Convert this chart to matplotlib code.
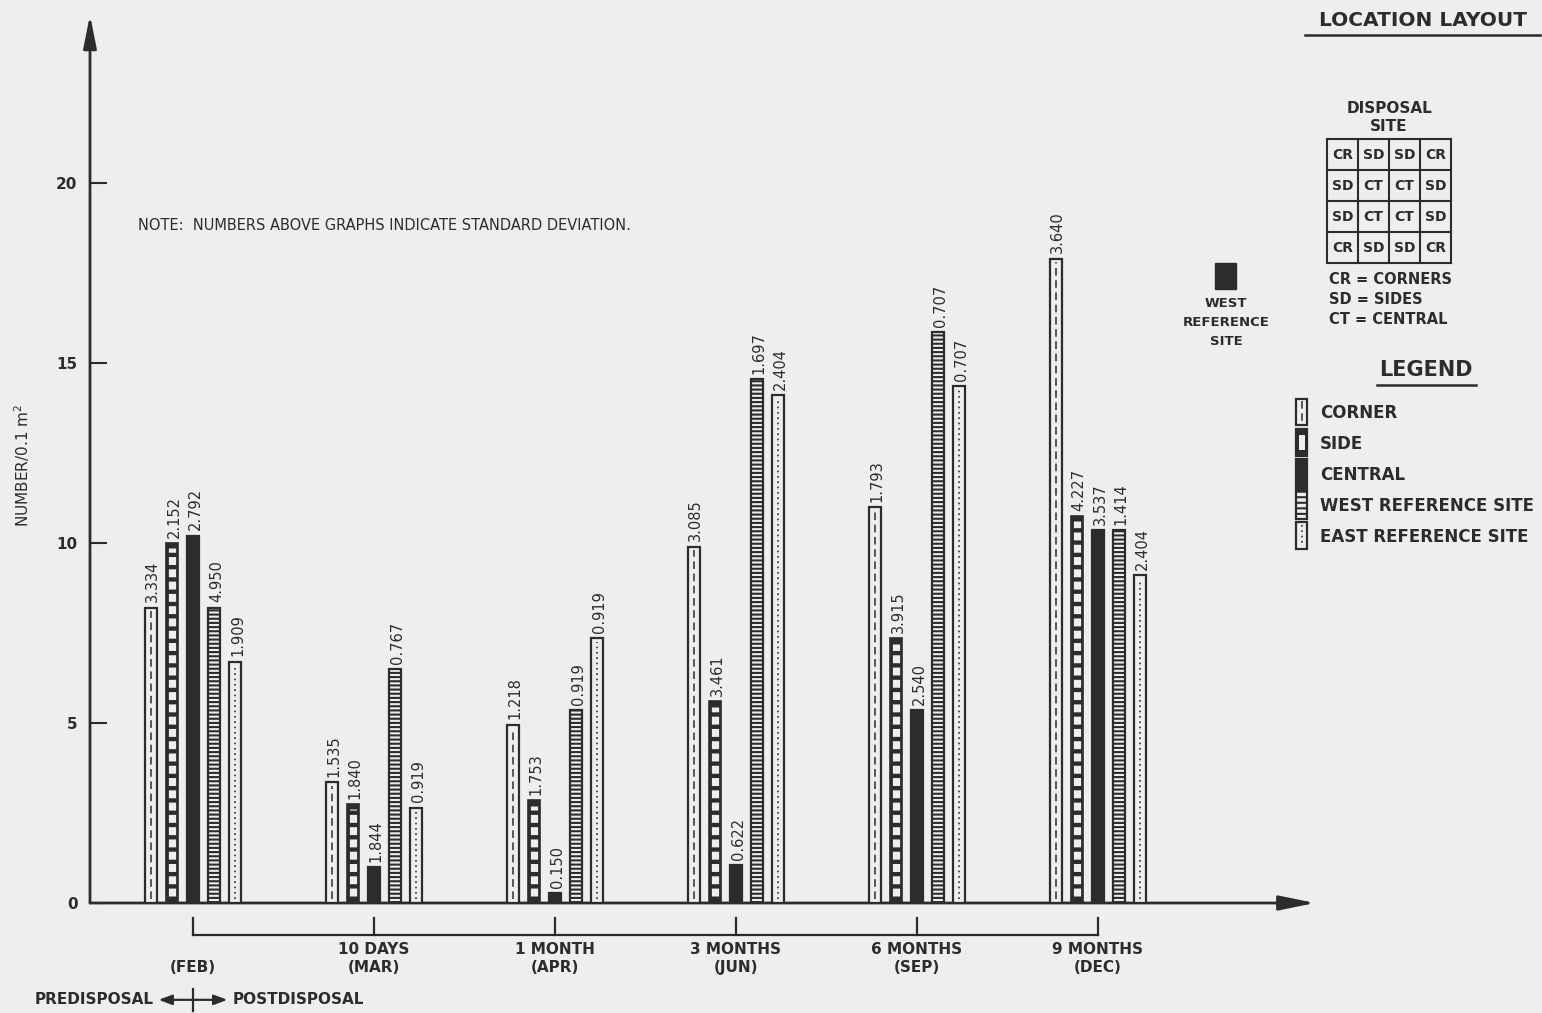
import numpy as np
import matplotlib
matplotlib.use("Agg")
import matplotlib.pyplot as plt
from matplotlib.patches import Rectangle

# ---------------- data ----------------
periods = ["", "10 DAYS", "1 MONTH", "3 MONTHS", "6 MONTHS", "9 MONTHS"]
months = ["(FEB)", "(MAR)", "(APR)", "(JUN)", "(SEP)", "(DEC)"]
series = ["CORNER", "SIDE", "CENTRAL", "WEST REFERENCE SITE", "EAST REFERENCE SITE"]

corner = [8.2, 3.35, 4.95, 9.9, 11.0, 17.9]
side = [10.0, 2.75, 2.85, 5.6, 7.35, 10.75]
central = [10.2, 1.0, 0.28, 1.05, 5.35, 10.35]
west = [8.2, 6.5, 5.35, 14.55, 15.85, 10.35]
east = [6.7, 2.65, 7.35, 14.1, 14.35, 9.1]

corner_sd = [3.334, 1.535, 1.218, 3.085, 1.793, 3.640]
side_sd = [2.152, 1.840, 1.753, 3.461, 3.915, 4.227]
central_sd = [2.792, 1.844, 0.150, 0.622, 2.540, 3.537]
west_sd = [4.950, 0.767, 0.919, 1.697, 0.707, 1.414]
east_sd = [1.909, 0.919, 0.919, 2.404, 0.707, 2.404]

grid_codes = [["CR", "SD", "SD", "CR"],
              ["SD", "CT", "CT", "SD"],
              ["SD", "CT", "CT", "SD"],
              ["CR", "SD", "SD", "CR"]]

INK = "#2c2c2c"
PAPER = "#eeeeee"
W, H = 1542, 1013

plt.rcParams["font.family"] = "DejaVu Sans"
plt.rcParams["hatch.linewidth"] = 1.5
plt.rcParams["hatch.color"] = INK

fig = plt.figure(figsize=(W / 100, H / 100), dpi=100, facecolor=PAPER)

# overlay in pixel units for the notes / layout panel
ov = fig.add_axes([0, 0, 1, 1])
ov.set_xlim(0, W)
ov.set_ylim(H, 0)
ov.axis("off")
ov.patch.set_alpha(0)

ax = fig.add_axes([90 / W, (H - 903) / H, (1315 - 90) / W, (903 - 15) / H])
ax.patch.set_alpha(0)
ax.set_xlim(-0.569, 6.199)
ax.set_ylim(0, 24.667)
for s in ax.spines.values():
    s.set_visible(False)

# axes with arrow heads
ax.annotate("", xy=(0, 1), xytext=(0, 0), xycoords="axes fraction",
            arrowprops=dict(arrowstyle="-|>,head_length=2.0,head_width=0.4",
                            lw=2, color=INK, shrinkA=0, shrinkB=0),
            annotation_clip=False)
ax.annotate("", xy=(1, 0), xytext=(0, 0), xycoords="axes fraction",
            arrowprops=dict(arrowstyle="-|>,head_length=2.2,head_width=0.45",
                            lw=2, color=INK, shrinkA=0, shrinkB=0),
            annotation_clip=False)

ax.set_yticks([0, 5, 10, 15, 20])
ax.tick_params(axis="y", direction="in", length=12, width=1.5, color=INK,
               pad=9, labelsize=11, labelcolor=INK)
for lab in ax.get_yticklabels():
    lab.set_fontweight("bold")

x = np.arange(len(months))
ax.set_xticks(x, [p + "\n" + m for p, m in zip(periods, months)])
ax.tick_params(axis="x", length=0, pad=28, labelsize=11, labelcolor=INK)
for lab in ax.get_xticklabels():
    lab.set_fontweight("bold")
    lab.set_linespacing(1.25)

pitch = 0.117
w = 0.066
xs = [x + k * pitch for k in (-2, -1, 0, 1, 2)]

# corner: outline with a dashed centre line
ax.bar(xs[0], corner, w, facecolor=PAPER, edgecolor=INK, lw=1.6, zorder=3)
for xi, h in zip(xs[0], corner):
    ax.plot([xi, xi], [0.1, h - 0.1], color=INK, lw=1.1, ls=(0, (5, 3)), zorder=4)

# side: dark bar with white windows
ax.bar(xs[1], side, w, facecolor=INK, edgecolor=INK, lw=1.2, zorder=3)
for xi, h in zip(xs[1], side):
    ax.plot([xi, xi], [0.2, h - 0.15], color=PAPER, lw=5.2,
            ls=(0, (1.1, 0.6)), solid_capstyle="butt", zorder=4)

# central: solid
ax.bar(xs[2], central, w, facecolor=INK, edgecolor=INK, lw=1.6, zorder=3)

# west reference: ladder
ax.bar(xs[3], west, w, facecolor=PAPER, edgecolor=INK, lw=1.6, hatch="----", zorder=3)

# east reference: outline with dotted centre line
ax.bar(xs[4], east, w, facecolor=PAPER, edgecolor=INK, lw=1.6, zorder=3)
for xi, h in zip(xs[4], east):
    ax.plot([xi, xi], [0.1, h - 0.1], color=INK, lw=1.2, ls=(0, (1, 2.2)), zorder=4)

# standard deviations above bars
for xk, vals, sds in zip(xs, [corner, side, central, west, east],
                         [corner_sd, side_sd, central_sd, west_sd, east_sd]):
    for xi, h, sd in zip(xk, vals, sds):
        ax.text(xi + 0.012, h + 0.15, f"{sd:.3f}", rotation=90, ha="center",
                va="bottom", fontsize=10.5, color=INK)

# bracket under the time axis
ax.plot([x[0], x[-1]], [-0.89, -0.89], color=INK, lw=1.6, clip_on=False)
for xi in x:
    ax.plot([xi, xi], [-0.42, -0.89], color=INK, lw=1.6, clip_on=False)

# pre / post disposal marker
yp = -2.69
ax.plot([0, 0], [-2.4, -3.0], color=INK, lw=1.6, clip_on=False)
for d in (-0.19, 0.19):
    ax.annotate("", xy=(d, yp), xytext=(0, yp), xycoords="data",
                arrowprops=dict(arrowstyle="-|>,head_length=0.8,head_width=0.3",
                                lw=1.6, color=INK, shrinkA=0, shrinkB=0),
                annotation_clip=False)
ax.text(-0.22, yp, "PREDISPOSAL", ha="right", va="center", fontsize=11,
        fontweight="bold", color=INK, clip_on=False)
ax.text(0.22, yp, "POSTDISPOSAL", ha="left", va="center", fontsize=11,
        fontweight="bold", color=INK, clip_on=False)

ov.text(22, 465, "NUMBER/0.1 m$^2$", rotation=90, ha="center", va="center",
        fontsize=11, color=INK)
ov.text(138, 225, "NOTE:  NUMBERS ABOVE GRAPHS INDICATE STANDARD DEVIATION.",
        ha="left", va="center", fontsize=10.5, color=INK)

# ---------------- location layout panel ----------------
ov.text(1423, 20, "LOCATION LAYOUT", ha="center", va="center", fontsize=14.5,
        fontweight="bold", color=INK)
ov.plot([1305, 1540], [35, 35], color=INK, lw=1.8)

ov.text(1389, 108, "DISPOSAL", ha="center", va="center", fontsize=11, fontweight="bold", color=INK)
ov.text(1389, 126, "SITE", ha="center", va="center", fontsize=11, fontweight="bold", color=INK)
gx0, gy0, cell = 1327, 139, 31
for i in range(5):
    ov.plot([gx0, gx0 + 4 * cell], [gy0 + i * cell] * 2, color=INK, lw=1.5)
    ov.plot([gx0 + i * cell] * 2, [gy0, gy0 + 4 * cell], color=INK, lw=1.5)
for r, row in enumerate(grid_codes):
    for c, code in enumerate(row):
        ov.text(gx0 + (c + 0.5) * cell, gy0 + (r + 0.5) * cell, code, ha="center",
                va="center", fontsize=10, fontweight="bold", color=INK)
for k, t in enumerate(["CR = CORNERS", "SD = SIDES", "CT = CENTRAL"]):
    ov.text(1329, 279 + k * 20, t, ha="left", va="center", fontsize=10.5,
            fontweight="bold", color=INK)

ov.add_patch(Rectangle((1215, 263), 21, 26, facecolor=INK, edgecolor=INK))
for k, t in enumerate(["WEST", "REFERENCE", "SITE"]):
    ov.text(1226, 303 + k * 19, t, ha="center", va="center", fontsize=9.5,
            fontweight="bold", color=INK)

ov.text(1426, 370, "LEGEND", ha="center", va="center", fontsize=15,
        fontweight="bold", color=INK)
ov.plot([1377, 1476], [385, 385], color=INK, lw=1.8)

icons = [(399, 425), (429, 456), (459, 489), (491, 519), (522, 549)]
ix, iw = 1296, 11
for k, (name, (top, bot)) in enumerate(zip(series, icons)):
    hgt = bot - top
    cx = ix + iw / 2
    if k == 0:
        ov.add_patch(Rectangle((ix, top), iw, hgt, facecolor=PAPER, edgecolor=INK, lw=1.6))
        ov.plot([cx, cx], [top + 2, bot - 2], color=INK, lw=1.1, ls=(0, (5, 3)))
    elif k == 1:
        ov.add_patch(Rectangle((ix, top), iw, hgt, facecolor=INK, edgecolor=INK, lw=1.6))
        ov.add_patch(Rectangle((ix + 2.5, top + 6), iw - 5, hgt - 12, facecolor=PAPER, lw=0))
    elif k == 2:
        ov.add_patch(Rectangle((ix, top), iw, hgt, facecolor=INK, edgecolor=INK, lw=1.6))
    elif k == 3:
        ov.add_patch(Rectangle((ix, top), iw, hgt, facecolor=PAPER, edgecolor=INK,
                               lw=1.6, hatch="---"))
    else:
        ov.add_patch(Rectangle((ix, top), iw, hgt, facecolor=PAPER, edgecolor=INK, lw=1.6))
        ov.plot([cx, cx], [top + 3, bot - 3], color=INK, lw=1.2, ls=(0, (1, 2.2)))
    ov.text(1320, (top + bot) / 2 + 1, name, ha="left", va="center", fontsize=12,
            fontweight="bold", color=INK)

fig.savefig("out.png", dpi=100, facecolor=PAPER)
